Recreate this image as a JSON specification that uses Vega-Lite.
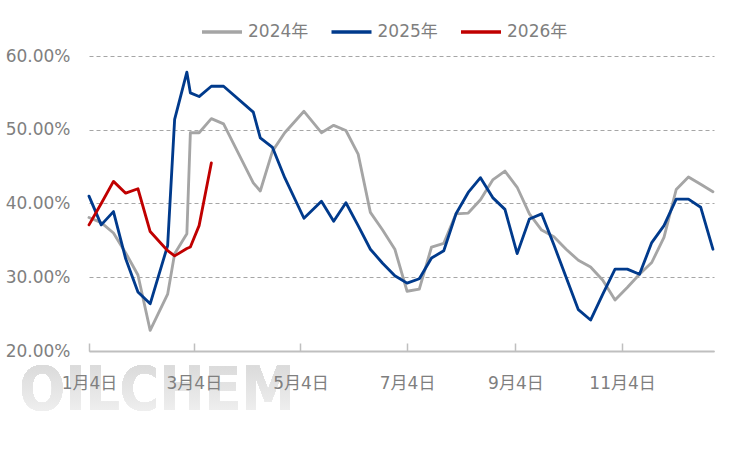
{
  "$schema": "https://vega.github.io/schema/vega-lite/v6.json",
  "width": 625,
  "height": 295,
  "autosize": {"type": "none"},
  "padding": {"left": 89, "top": 56, "right": 37, "bottom": 99},
  "background": "white",
  "config": {"view": {"stroke": null}, "font": "DejaVu Sans, Noto Sans CJK SC"},
  "data": {
    "values": [
      {"date": "2024-01-04", "series": "2024年", "value": 0.381},
      {"date": "2024-01-11", "series": "2024年", "value": 0.374},
      {"date": "2024-01-18", "series": "2024年", "value": 0.360},
      {"date": "2024-01-25", "series": "2024年", "value": 0.333},
      {"date": "2024-02-01", "series": "2024年", "value": 0.303},
      {"date": "2024-02-08", "series": "2024年", "value": 0.228},
      {"date": "2024-02-18", "series": "2024年", "value": 0.277},
      {"date": "2024-02-22", "series": "2024年", "value": 0.332},
      {"date": "2024-02-29", "series": "2024年", "value": 0.359},
      {"date": "2024-03-02", "series": "2024年", "value": 0.496},
      {"date": "2024-03-07", "series": "2024年", "value": 0.496},
      {"date": "2024-03-14", "series": "2024年", "value": 0.515},
      {"date": "2024-03-21", "series": "2024年", "value": 0.508},
      {"date": "2024-04-07", "series": "2024年", "value": 0.428},
      {"date": "2024-04-11", "series": "2024年", "value": 0.417},
      {"date": "2024-04-18", "series": "2024年", "value": 0.471},
      {"date": "2024-04-25", "series": "2024年", "value": 0.496},
      {"date": "2024-05-06", "series": "2024年", "value": 0.525},
      {"date": "2024-05-16", "series": "2024年", "value": 0.496},
      {"date": "2024-05-23", "series": "2024年", "value": 0.506},
      {"date": "2024-05-30", "series": "2024年", "value": 0.499},
      {"date": "2024-06-06", "series": "2024年", "value": 0.467},
      {"date": "2024-06-13", "series": "2024年", "value": 0.388},
      {"date": "2024-06-20", "series": "2024年", "value": 0.364},
      {"date": "2024-06-27", "series": "2024年", "value": 0.338},
      {"date": "2024-07-04", "series": "2024年", "value": 0.281},
      {"date": "2024-07-11", "series": "2024年", "value": 0.284},
      {"date": "2024-07-18", "series": "2024年", "value": 0.341},
      {"date": "2024-07-25", "series": "2024年", "value": 0.346},
      {"date": "2024-08-01", "series": "2024年", "value": 0.386},
      {"date": "2024-08-08", "series": "2024年", "value": 0.387},
      {"date": "2024-08-15", "series": "2024年", "value": 0.405},
      {"date": "2024-08-22", "series": "2024年", "value": 0.432},
      {"date": "2024-08-29", "series": "2024年", "value": 0.444},
      {"date": "2024-09-05", "series": "2024年", "value": 0.422},
      {"date": "2024-09-12", "series": "2024年", "value": 0.386},
      {"date": "2024-09-19", "series": "2024年", "value": 0.364},
      {"date": "2024-09-26", "series": "2024年", "value": 0.355},
      {"date": "2024-10-03", "series": "2024年", "value": 0.338},
      {"date": "2024-10-10", "series": "2024年", "value": 0.323},
      {"date": "2024-10-17", "series": "2024年", "value": 0.314},
      {"date": "2024-10-24", "series": "2024年", "value": 0.296},
      {"date": "2024-10-31", "series": "2024年", "value": 0.269},
      {"date": "2024-11-07", "series": "2024年", "value": 0.286},
      {"date": "2024-11-14", "series": "2024年", "value": 0.304},
      {"date": "2024-11-21", "series": "2024年", "value": 0.320},
      {"date": "2024-11-28", "series": "2024年", "value": 0.354},
      {"date": "2024-12-05", "series": "2024年", "value": 0.419},
      {"date": "2024-12-12", "series": "2024年", "value": 0.436},
      {"date": "2024-12-19", "series": "2024年", "value": 0.426},
      {"date": "2024-12-26", "series": "2024年", "value": 0.416},

      {"date": "2024-01-04", "series": "2025年", "value": 0.410},
      {"date": "2024-01-11", "series": "2025年", "value": 0.371},
      {"date": "2024-01-18", "series": "2025年", "value": 0.389},
      {"date": "2024-01-25", "series": "2025年", "value": 0.325},
      {"date": "2024-02-01", "series": "2025年", "value": 0.280},
      {"date": "2024-02-08", "series": "2025年", "value": 0.264},
      {"date": "2024-02-18", "series": "2025年", "value": 0.343},
      {"date": "2024-02-22", "series": "2025年", "value": 0.514},
      {"date": "2024-02-29", "series": "2025年", "value": 0.578},
      {"date": "2024-03-02", "series": "2025年", "value": 0.550},
      {"date": "2024-03-07", "series": "2025年", "value": 0.545},
      {"date": "2024-03-14", "series": "2025年", "value": 0.559},
      {"date": "2024-03-21", "series": "2025年", "value": 0.559},
      {"date": "2024-04-07", "series": "2025年", "value": 0.524},
      {"date": "2024-04-11", "series": "2025年", "value": 0.489},
      {"date": "2024-04-18", "series": "2025年", "value": 0.476},
      {"date": "2024-04-25", "series": "2025年", "value": 0.435},
      {"date": "2024-05-06", "series": "2025年", "value": 0.380},
      {"date": "2024-05-16", "series": "2025年", "value": 0.403},
      {"date": "2024-05-23", "series": "2025年", "value": 0.376},
      {"date": "2024-05-30", "series": "2025年", "value": 0.401},
      {"date": "2024-06-06", "series": "2025年", "value": 0.370},
      {"date": "2024-06-13", "series": "2025年", "value": 0.338},
      {"date": "2024-06-20", "series": "2025年", "value": 0.319},
      {"date": "2024-06-27", "series": "2025年", "value": 0.302},
      {"date": "2024-07-04", "series": "2025年", "value": 0.292},
      {"date": "2024-07-11", "series": "2025年", "value": 0.298},
      {"date": "2024-07-18", "series": "2025年", "value": 0.326},
      {"date": "2024-07-25", "series": "2025年", "value": 0.336},
      {"date": "2024-08-01", "series": "2025年", "value": 0.386},
      {"date": "2024-08-08", "series": "2025年", "value": 0.415},
      {"date": "2024-08-15", "series": "2025年", "value": 0.435},
      {"date": "2024-08-22", "series": "2025年", "value": 0.408},
      {"date": "2024-08-29", "series": "2025年", "value": 0.392},
      {"date": "2024-09-05", "series": "2025年", "value": 0.332},
      {"date": "2024-09-12", "series": "2025年", "value": 0.379},
      {"date": "2024-09-19", "series": "2025年", "value": 0.386},
      {"date": "2024-09-26", "series": "2025年", "value": 0.344},
      {"date": "2024-10-03", "series": "2025年", "value": 0.300},
      {"date": "2024-10-10", "series": "2025年", "value": 0.256},
      {"date": "2024-10-17", "series": "2025年", "value": 0.242},
      {"date": "2024-10-24", "series": "2025年", "value": 0.277},
      {"date": "2024-10-31", "series": "2025年", "value": 0.311},
      {"date": "2024-11-07", "series": "2025年", "value": 0.311},
      {"date": "2024-11-14", "series": "2025年", "value": 0.304},
      {"date": "2024-11-21", "series": "2025年", "value": 0.347},
      {"date": "2024-11-28", "series": "2025年", "value": 0.370},
      {"date": "2024-12-05", "series": "2025年", "value": 0.406},
      {"date": "2024-12-12", "series": "2025年", "value": 0.406},
      {"date": "2024-12-19", "series": "2025年", "value": 0.395},
      {"date": "2024-12-26", "series": "2025年", "value": 0.338},

      {"date": "2024-01-04", "series": "2026年", "value": 0.371},
      {"date": "2024-01-11", "series": "2026年", "value": 0.400},
      {"date": "2024-01-18", "series": "2026年", "value": 0.430},
      {"date": "2024-01-25", "series": "2026年", "value": 0.414},
      {"date": "2024-02-01", "series": "2026年", "value": 0.420},
      {"date": "2024-02-08", "series": "2026年", "value": 0.362},
      {"date": "2024-02-18", "series": "2026年", "value": 0.336},
      {"date": "2024-02-22", "series": "2026年", "value": 0.329},
      {"date": "2024-02-29", "series": "2026年", "value": 0.339},
      {"date": "2024-03-02", "series": "2026年", "value": 0.341},
      {"date": "2024-03-07", "series": "2026年", "value": 0.370},
      {"date": "2024-03-14", "series": "2026年", "value": 0.455}
    ]
  },
  "layer": [
    {
      "mark": {
        "type": "text",
        "text": "OILCHEM",
        "font": "DejaVu Sans Condensed, Liberation Sans Narrow, Roboto Condensed, Roboto",
        "fontWeight": "bold",
        "fontSize": 60,
        "baseline": "middle",
        "align": "center",
        "fill": {
          "gradient": "linear",
          "x1": 0, "y1": 0, "x2": 0, "y2": 1,
          "stops": [
            {"offset": 0, "color": "#D6D6D6"},
            {"offset": 1, "color": "#F4F4F4"}
          ]
        }
      },
      "encoding": {
        "x": {"datum": {"year": 2024, "month": 2, "date": 12, "utc": true}, "type": "temporal"},
        "y": {"datum": 0.144, "type": "quantitative"}
      }
    },
    {
      "mark": {"type": "line", "strokeWidth": 2.85, "strokeJoin": "round", "strokeCap": "round"},
      "encoding": {
        "x": {
          "field": "date",
          "type": "temporal",
          "scale": {
            "type": "utc",
            "domain": [
              {"year": 2024, "month": 1, "date": 4, "utc": true},
              {"year": 2024, "month": 12, "date": 26, "hours": 15, "utc": true}
            ]
          },
          "axis": {
            "values": [
              {"year": 2024, "month": 1, "date": 4, "utc": true},
              {"year": 2024, "month": 3, "date": 4, "utc": true},
              {"year": 2024, "month": 5, "date": 4, "utc": true},
              {"year": 2024, "month": 7, "date": 4, "utc": true},
              {"year": 2024, "month": 9, "date": 4, "utc": true},
              {"year": 2024, "month": 11, "date": 4, "utc": true}
            ],
            "labelExpr": "(utcmonth(datum.value) + 1) + '月' + utcdate(datum.value) + '日'",
            "title": null,
            "grid": false,
            "zindex": 1,
            "domainColor": "#BFBFBF",
            "domainWidth": 2,
            "tickColor": "#BFBFBF",
            "tickWidth": 1.5,
            "tickSize": -8,
            "labelFont": "DejaVu Sans, Noto Sans CJK SC",
            "labelFontSize": 17,
            "labelColor": "#7F7F7F",
            "labelPadding": 32,
            "labelFlush": false,
            "labelOverlap": false
          }
        },
        "y": {
          "field": "value",
          "type": "quantitative",
          "scale": {"domain": [0.2, 0.6], "zero": false},
          "axis": {
            "values": [0.2, 0.25, 0.3, 0.35, 0.4, 0.45, 0.5, 0.55, 0.6],
            "format": ".2%",
            "title": null,
            "domain": false,
            "ticks": false,
            "grid": true,
            "gridDash": [4, 3],
            "gridColor": "#A6A6A6",
            "gridWidth": 1,
            "labelPadding": 19,
            "labelOverlap": false,
            "labelFont": "DejaVu Sans, Noto Sans CJK SC",
            "labelFontSize": 17,
            "labelColor": "#7F7F7F"
          }
        },
        "color": {
          "field": "series",
          "type": "nominal",
          "scale": {
            "domain": ["2024年", "2025年", "2026年"],
            "range": ["#A5A5A5", "#003A8C", "#C00000"]
          },
          "legend": {
            "orient": "none",
            "legendX": 111,
            "legendY": -46,
            "direction": "horizontal",
            "title": null,
            "symbolType": "stroke",
            "symbolSize": 1600,
            "symbolStrokeWidth": 3.5,
            "labelFont": "DejaVu Sans, Noto Sans CJK SC",
            "labelFontSize": 17,
            "labelColor": "#7F7F7F",
            "labelOffset": 4,
            "columnPadding": 15.5
          }
        }
      }
    }
  ]
}
